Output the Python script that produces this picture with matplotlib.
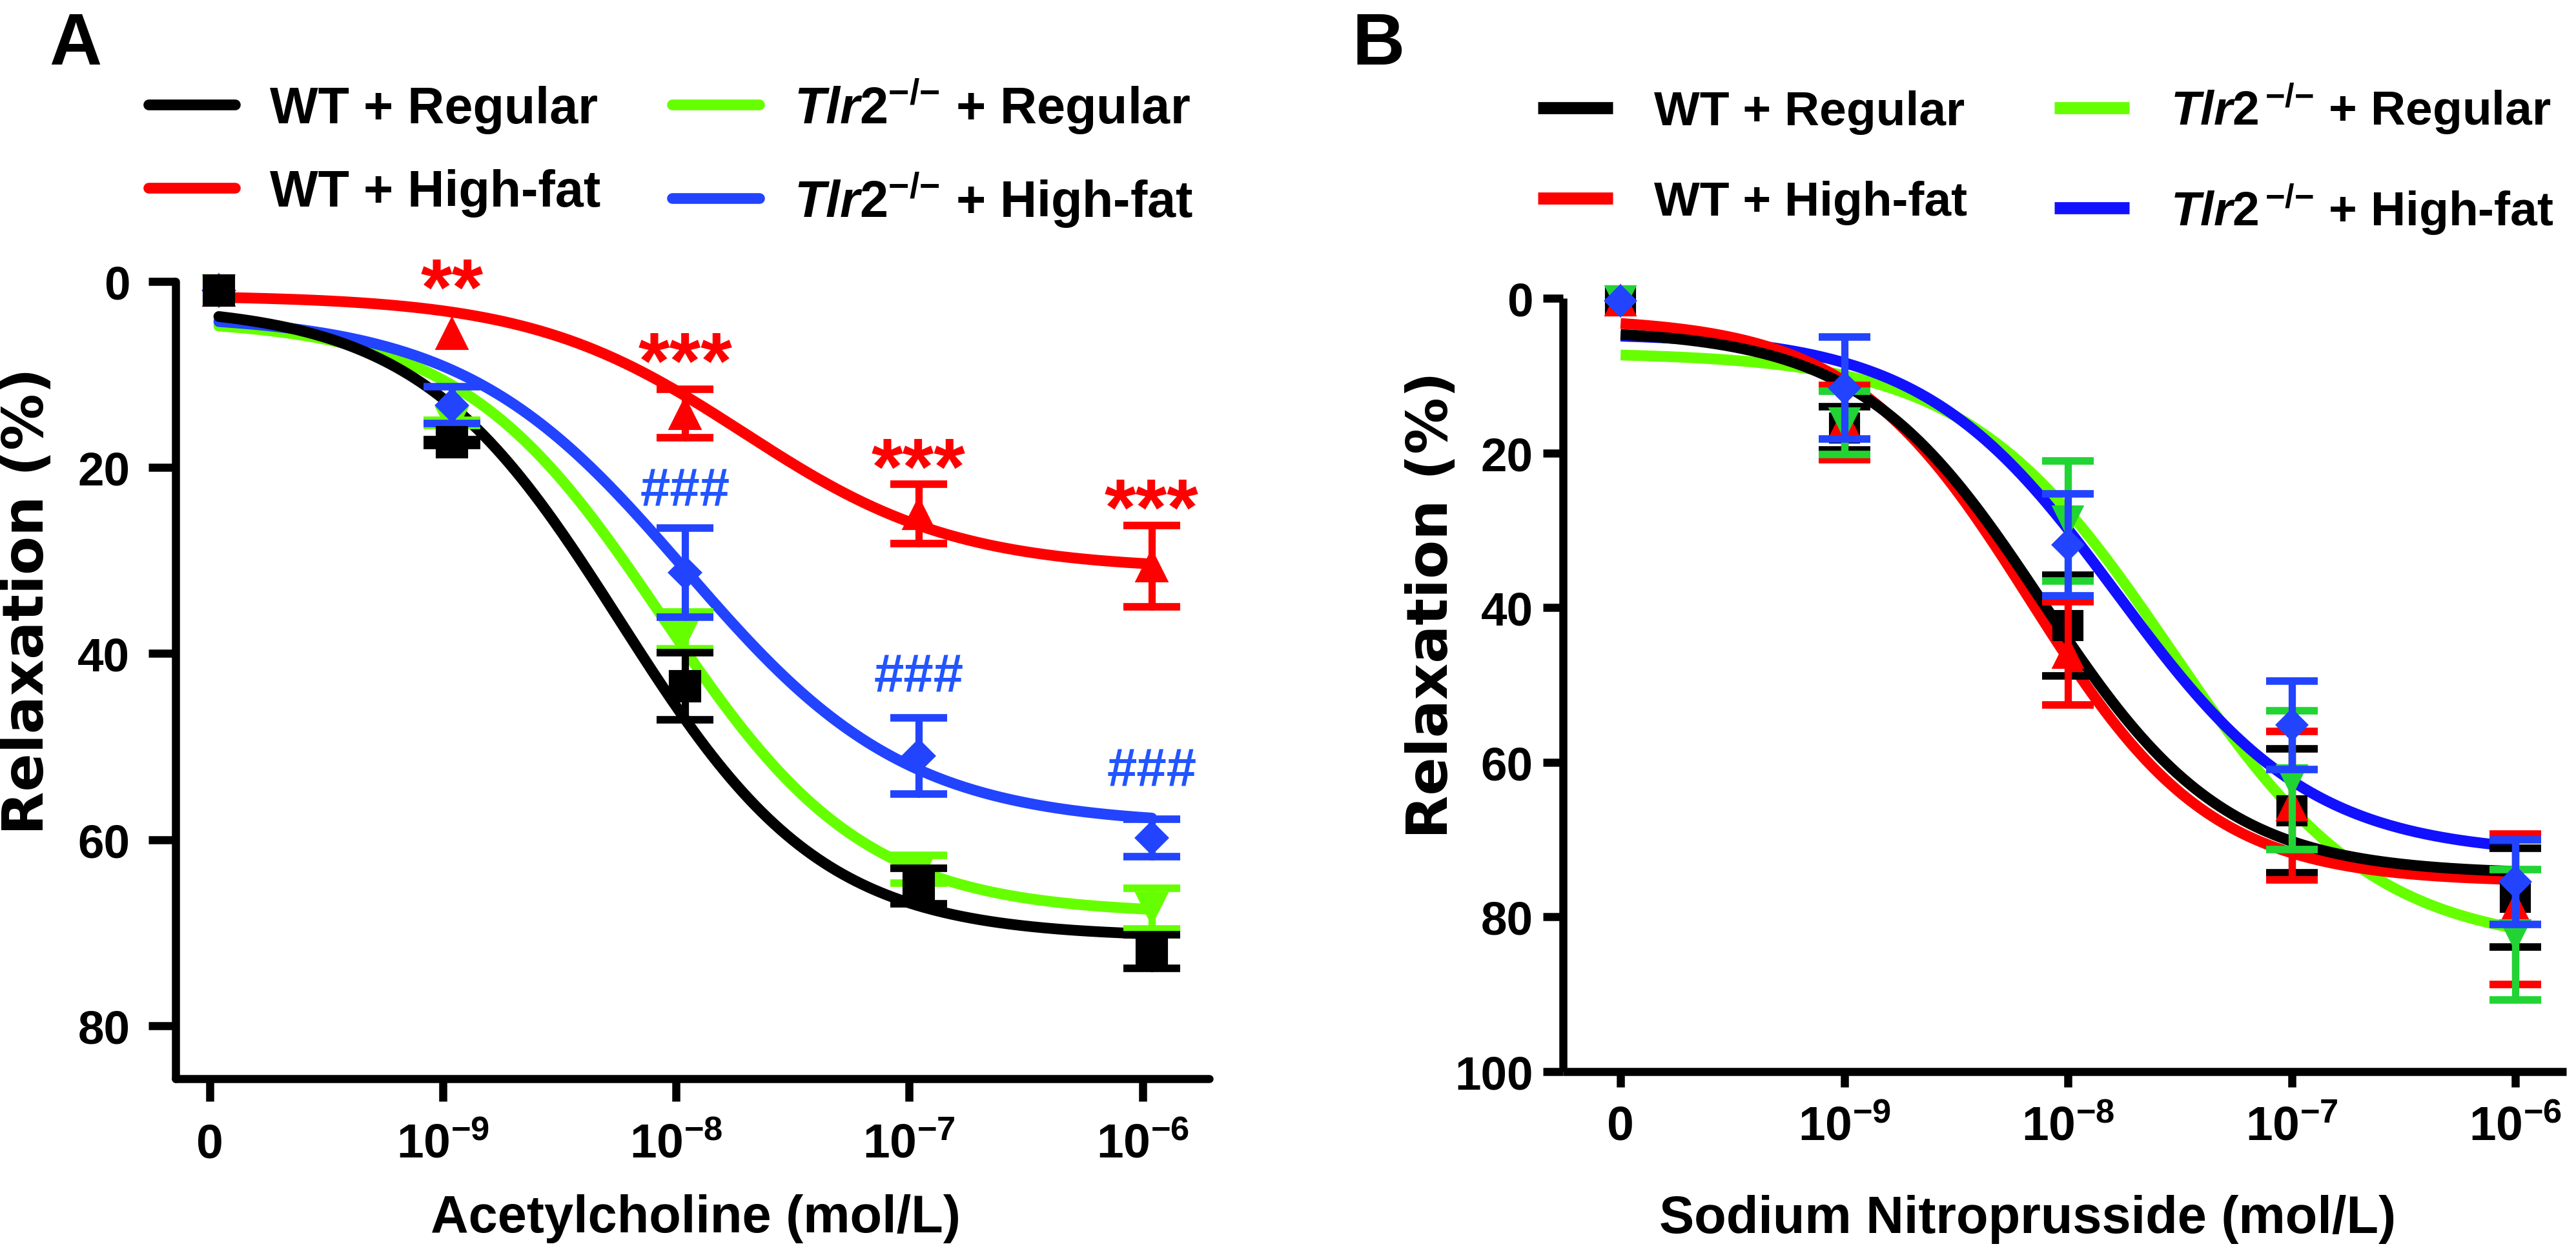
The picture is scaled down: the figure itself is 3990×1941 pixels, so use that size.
import numpy as np
import matplotlib.pyplot as plt
from matplotlib.lines import Line2D

plt.rcParams['font.family'] = ['Liberation Sans', 'DejaVu Sans']
plt.rcParams['font.weight'] = 'bold'
plt.rcParams['axes.labelweight'] = 'bold'
plt.rcParams['mathtext.fontset'] = 'custom'
plt.rcParams['mathtext.rm'] = 'Liberation Sans:bold'
plt.rcParams['mathtext.bf'] = 'Liberation Sans:bold'
plt.rcParams['mathtext.it'] = 'Liberation Sans:italic:bold'

# concentrations on a log axis, the "0" dose is drawn at 10^-10
conc_pos = [-10, -9, -8, -7, -6]
conc_labels = ['0', r'$\mathbf{10^{-9}}$', r'$\mathbf{10^{-8}}$',
               r'$\mathbf{10^{-7}}$', r'$\mathbf{10^{-6}}$']

groups = ['wt_reg', 'wt_hf', 'ko_reg', 'ko_hf']
markers = ['s', '^', 'v', 'D']
labels_a = ['WT + Regular', 'WT + High-fat',
            r'$\mathit{Tlr2}^{{-}/{-}}$ + Regular', r'$\mathit{Tlr2}^{{-}/{-}}$ + High-fat']
labels_b = ['WT + Regular', 'WT + High-fat',
            r'$\mathit{Tlr2}^{\,{-}/{-}}$ + Regular', r'$\mathit{Tlr2}^{\,{-}/{-}}$ + High-fat']

# Panel A - acetylcholine, relaxation (%) mean and SEM
ach_wt_reg = [1.0, 17.3, 43.5, 65.0, 72.0]
ach_wt_hf = [1.0, 5.6, 14.2, 25.0, 30.6]
ach_ko_reg = [1.0, 15.2, 37.5, 63.2, 67.4]
ach_ko_hf = [1.0, 13.3, 31.3, 51.0, 59.8]
ach_wt_reg_sem = [0.0, 0.3, 3.6, 1.9, 1.8]
ach_wt_hf_sem = [0.0, 0.0, 2.6, 3.2, 4.4]
ach_ko_reg_sem = [0.0, 0.3, 2.0, 1.5, 2.2]
ach_ko_hf_sem = [0.0, 2.0, 4.8, 4.1, 2.0]
# fitted curves: bottom, top, logEC50, hill slope
ach_fit = {'wt_reg': [2.5, 70.5, -8.28, 1.0],
           'wt_hf': [1.5, 31.0, -7.75, 0.95],
           'ko_reg': [4.0, 68.0, -8.1, 1.0],
           'ko_hf': [3.5, 58.5, -8.0, 0.91]}

# Panel B - sodium nitroprusside
snp_wt_reg = [0.3, 16.8, 42.3, 66.3, 77.5]
snp_wt_hf = [0.3, 16.1, 45.9, 65.6, 79.0]
snp_ko_reg = [0.3, 16.1, 28.8, 62.3, 82.3]
snp_ko_hf = [0.3, 11.6, 31.9, 55.2, 75.5]
snp_wt_reg_sem = [0.0, 2.8, 6.5, 8.0, 6.4]
snp_wt_hf_sem = [0.0, 4.8, 6.7, 9.6, 9.7]
snp_ko_reg_sem = [0.0, 4.1, 7.8, 9.0, 8.4]
snp_ko_hf_sem = [0.0, 6.6, 6.6, 5.7, 5.5]
snp_fit = {'wt_reg': [4.0, 74.5, -8.115, 1.067],
           'wt_hf': [2.5, 75.5, -8.17, 1.08],
           'ko_reg': [7.0, 84.0, -7.54, 0.955],
           'ko_hf': [4.5, 72.0, -7.78, 1.0]}

# significance labels in panel A
star_pos = [-9, -8, -7, -6]
star_text = ['**', '***', '***', '***']
star_y = [3.5, 11.4, 22.8, 27.2]
hash_pos = [-8, -7, -6]
hash_y = [24.1, 44.1, 54.2]

ach_mean = dict(zip(groups, [ach_wt_reg, ach_wt_hf, ach_ko_reg, ach_ko_hf]))
ach_sem = dict(zip(groups, [ach_wt_reg_sem, ach_wt_hf_sem, ach_ko_reg_sem, ach_ko_hf_sem]))
snp_mean = dict(zip(groups, [snp_wt_reg, snp_wt_hf, snp_ko_reg, snp_ko_hf]))
snp_sem = dict(zip(groups, [snp_wt_reg_sem, snp_wt_hf_sem, snp_ko_reg_sem, snp_ko_hf_sem]))

line_col_a = ['#000000', '#ff0000', '#66ff00', '#2244ff']
mark_col_a = ['#000000', '#ff0000', '#66ff00', '#2244ff']
line_col_b = ['#000000', '#ff0000', '#66ff00', '#1111ff']
mark_col_b = ['#000000', '#ff0000', '#22d433', '#2244ff']


def hill(x, bottom, top, logec50, slope):
    return bottom + (top - bottom) / (1 + 10 ** ((logec50 - x) * slope))


def panel(ax, means, sems, fits, line_cols, mark_cols, cap, ms, capsize, mark_order):
    xfit = np.linspace(-10, -6, 300)
    for i in [2, 3, 1, 0]:
        g = groups[i]
        ax.plot(xfit, hill(xfit, *fits[g]), color=line_cols[i], lw=4,
                solid_capstyle=cap, zorder=2)
    for z, i in enumerate(mark_order):
        g = groups[i]
        msz = ms * 0.75 if markers[i] == 'D' else ms
        # points without a visible spread get no error bar
        err = np.array(sems[g])
        eb = ax.errorbar(conc_pos, means[g], yerr=np.where(err > 0, err, np.nan),
                         fmt=markers[i], color=mark_cols[i], mec=mark_cols[i], ms=msz,
                         capsize=capsize, elinewidth=2.7, capthick=2.8, zorder=3 + z)
        eb[0].set_clip_on(False)
        for c in eb[1]:
            c.set_clip_on(False)
        for c in eb[2]:
            c.set_clip_on(False)
            c.set_capstyle(cap)
    for side in ['top', 'right']:
        ax.spines[side].set_visible(False)
    for side in ['left', 'bottom']:
        ax.spines[side].set_linewidth(3)
        ax.spines[side].set_capstyle(cap)


fig = plt.figure(figsize=(13.3, 6.4733), dpi=300)
axA = fig.add_axes([0.0682, 0.1390, 0.4012, 0.6360])
axB = fig.add_axes([0.6068, 0.1447, 0.3895, 0.6169])

# ---- A ----
panel(axA, ach_mean, ach_sem, ach_fit, line_col_a, mark_col_a, 'round', 11, 10.5, [1, 2, 3, 0])
axA.set_xlim(-10.185, -5.754)
axA.set_ylim(85.7, 0)
axA.set_yticks([0, 20, 40, 60, 80])
axA.set_xticks([p - 0.04 for p in conc_pos])
axA.set_xticklabels(conc_labels)
axA.tick_params(axis='y', length=10, width=3, pad=7, labelsize=17.5)
axA.tick_params(axis='x', length=8.5, width=3, pad=20.6, labelsize=18)
for t in axA.get_xticklabels():
    t.set_va('baseline')
axA.set_ylabel('Relaxation (%)', fontsize=21, family='DejaVu Sans', fontweight='bold')
axA.yaxis.set_label_coords(-0.117, 0.60)
axA.set_xlabel('Acetylcholine (mol/L)', fontsize=19.5, fontweight='bold')
axA.xaxis.set_label_coords(0.503, -0.144)

for xp, tx, yp in zip(star_pos, star_text, star_y):
    axA.text(xp, yp, tx, color='#ff0000', fontsize=30, ha='center', va='baseline',
             clip_on=False)
for xp, yp in zip(hash_pos, hash_y):
    axA.text(xp, yp, '###', color='#2255ff', fontsize=20, ha='center', va='baseline')

hA = [Line2D([], [], color=c, lw=4, solid_capstyle='round') for c in line_col_a]
axA.legend(hA, labels_a, loc='center left', bbox_to_anchor=(0.0576, 0.878),
           bbox_transform=fig.transFigure, ncol=2, frameon=False, fontsize=19,
           handlelength=1.7, handletextpad=0.68, columnspacing=1.4,
           labelspacing=0.68, borderpad=0, borderaxespad=0)

# ---- B ----
panel(axB, snp_mean, snp_sem, snp_fit, line_col_b, mark_col_b, 'butt', 10.5, 9.5, [0, 1, 2, 3])
axB.set_xlim(-10.257, -5.772)
axB.set_ylim(100, 0)
axB.set_yticks([0, 20, 40, 60, 80, 100])
axB.set_xticks(conc_pos)
axB.set_xticklabels(conc_labels)
axB.tick_params(axis='y', length=7.4, width=3, pad=3.8, labelsize=17.5)
axB.tick_params(axis='x', length=5.8, width=3, pad=19.4, labelsize=18)
for t in axB.get_xticklabels():
    t.set_va('baseline')
axB.set_ylabel('Relaxation (%)', fontsize=21, family='DejaVu Sans', fontweight='bold')
axB.yaxis.set_label_coords(-0.1036, 0.604)
axB.set_xlabel('Sodium Nitroprusside (mol/L)', fontsize=19.5, fontweight='bold')
axB.xaxis.set_label_coords(0.463, -0.159)

hB = [Line2D([], [], color=c, lw=4.5, solid_capstyle='butt') for c in line_col_b]
axB.legend(hB, labels_b, loc='center left', bbox_to_anchor=(0.597, 0.873),
           bbox_transform=fig.transFigure, ncol=2, frameon=False, fontsize=18,
           handlelength=1.55, handletextpad=0.85, columnspacing=1.8,
           labelspacing=0.95, borderpad=0, borderaxespad=0)

fig.text(76 / 3990, 1 - 18 / 1942, 'A', fontsize=27, fontweight='bold', va='top')
fig.text(2095 / 3990, 1 - 18 / 1942, 'B', fontsize=27, fontweight='bold', va='top')

fig.savefig('out.png', dpi=300)
